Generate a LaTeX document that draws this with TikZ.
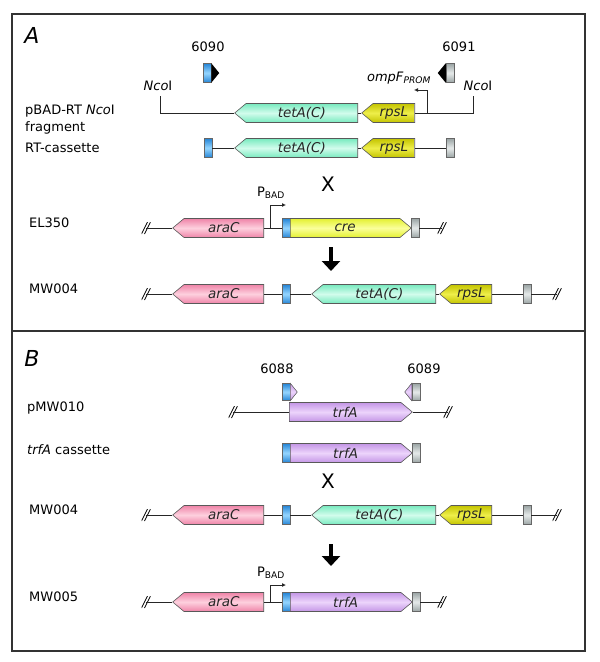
\documentclass[tikz,border=0pt]{standalone}
\usepackage{fontspec}
\setmainfont{DejaVu Sans}
\usepackage{tikz}
\usetikzlibrary{shapes.symbols, arrows.meta, positioning, calc}
\newcommand{\lblfont}{\fontsize{13}{15}\selectfont}
\newcommand{\genfont}{\fontsize{13.5}{15}\selectfont\itshape}
\definecolor{tetc}{HTML}{78EABF}
\definecolor{tetm}{HTML}{D2FCEC}
\definecolor{rpsc}{HTML}{C4C400}
\definecolor{rpsm}{HTML}{EEEE4A}
\definecolor{crec}{HTML}{E4F030}
\definecolor{crem}{HTML}{FAFF9A}
\definecolor{arac}{HTML}{EF84A8}
\definecolor{aram}{HTML}{FDD0DE}
\definecolor{trfc}{HTML}{C496E6}
\definecolor{trfm}{HTML}{ECD4FB}
\definecolor{bluc}{HTML}{2585D6}
\definecolor{blum}{HTML}{96D6FF}
\definecolor{gryc}{HTML}{9AA4A4}
\definecolor{grym}{HTML}{E6EAEA}
\tikzstyle{gene} = [signal, signal pointer angle=80, draw=black!65, line width=0.6pt, minimum height=19pt, inner sep=0pt, font=\genfont, text=black!85]
\tikzstyle{genel} = [gene, signal to=west, signal from=nowhere, anchor=east]
\tikzstyle{gener} = [gene, signal to=east, signal from=nowhere, anchor=west]
\tikzstyle{site} = [rectangle, draw=black!60, line width=0.5pt, minimum width=8pt, minimum height=19pt, inner sep=0pt]
\tikzstyle{tetf} = [top color=tetc, bottom color=tetc, middle color=tetm]
\tikzstyle{rpsf} = [top color=rpsc, bottom color=rpsc, middle color=rpsm]
\tikzstyle{cref} = [top color=crec, bottom color=crec, middle color=crem]
\tikzstyle{araf} = [top color=arac, bottom color=arac, middle color=aram]
\tikzstyle{trff} = [top color=trfc, bottom color=trfc, middle color=trfm]
\tikzstyle{bluf} = [top color=bluc, bottom color=bluc, middle color=blum]
\tikzstyle{gryf} = [top color=gryc, bottom color=gryc, middle color=grym]
\tikzstyle{bline} = [line width=0.8pt, black!85]
\tikzstyle{prom} = [bline, -{Latex[length=4pt, width=4pt]}]
\tikzstyle{darr} = [line width=4pt, -{Triangle[length=10pt, width=18pt]}]
\tikzstyle{lab} = [anchor=west, font=\lblfont, inner sep=0pt]
\tikzstyle{txt} = [font=\lblfont, inner sep=0pt]
\tikzstyle{brk} = [minimum width=9pt, minimum height=12pt, inner sep=0pt, path picture={
    \draw[line width=0.8pt] (path picture bounding box.south west) -- ([xshift=-3pt]path picture bounding box.north east);
    \draw[line width=0.8pt] ([xshift=3pt]path picture bounding box.south west) -- (path picture bounding box.north east);}]

\begin{document}
\begin{tikzpicture}[x=1pt, y=-1pt]
  \useasboundingbox (0,0) rectangle (600,662);
  \draw[line width=1.3pt, black!80] (12,14) rectangle (585,651);
  \draw[line width=1.3pt, black!80] (12,331) -- (585,331);

  % panel A
  \node[font=\fontsize{22}{24}\selectfont\itshape] (pa) at (32,35) {A};
  \node[txt] (n6090) at (208,47) {6090};
  \node[txt] (n6091) at (459,47) {6091};
  \node[site, bluf] (p6090) at (207,73) {};
  \fill[black] (p6090.north east) -- ($(p6090.east)+(8,0)$) -- (p6090.south east) -- cycle;
  \node[site, gryf] (p6091) at (450,73) {};
  \fill[black] (p6091.north west) -- ($(p6091.west)+(-8,0)$) -- (p6091.south west) -- cycle;

  \node[lab] (lab1) at (25,111) {pBAD-RT \textit{Nco}I};
  \node[lab] (lab1b) at (25,128) {fragment};
  \node[txt] (nco1) at (158,86) {\textit{Nco}I};
  \node[txt] (nco2) at (478,86) {\textit{Nco}I};
  \coordinate (c1l) at (160,96);
  \coordinate (c1r) at (473,96);
  \node[genel, tetf, minimum width=123pt] (tet1) at (358,113) {tetA(C)};
  \node[genel, rpsf, minimum width=53pt] (rps1) at (415,113) {rpsL};
  \draw[bline] (c1l) |- (tet1.west);
  \draw[bline] (tet1.east) -- (rps1.west);
  \draw[bline] (rps1.east) -| (c1r);
  \coordinate (omp1) at (427,113);
  \coordinate (omp2) at (414,90);
  \draw[prom] (omp1) |- (omp2);
  \node[txt] (ompl) at (399,78) {\textit{ompF}\textsubscript{\textit{PROM}}};

  \node[lab] (lab2) at (25,148) {RT-cassette};
  \node[site, bluf] (b2) at (208,148) {};
  \node[genel, tetf, minimum width=123pt] (tet2) at (358,148) {tetA(C)};
  \node[genel, rpsf, minimum width=53pt] (rps2) at (415,148) {rpsL};
  \node[site, gryf] (g2) at (450,148) {};
  \draw[bline] (b2) -- (tet2.west);
  \draw[bline] (tet2.east) -- (rps2.west);
  \draw[bline] (rps2.east) -- (g2);

  \node[font=\fontsize{20}{22}\selectfont] (x1) at (328,184) {X};

  \node[lab] (lab3) at (29,223) {EL350};
  \node[brk] (k3l) at (146,228) {};
  \node[genel, araf, minimum width=91pt] (ara3) at (264,228) {araC};
  \node[site, bluf] (b3) at (286,228) {};
  \node[gener, cref, minimum width=121pt] (cre3) at (290,228) {cre};
  \node[site, gryf] (g3) at (415,228) {};
  \node[brk] (k3r) at (442,228) {};
  \draw[bline] (k3l.center) -- (ara3.west);
  \draw[bline] (ara3.east) -- (b3);
  \draw[bline] (g3) -- (k3r.center);
  \coordinate (pb3) at (270,228);
  \coordinate (pb3e) at (286,205);
  \draw[prom] (pb3) |- (pb3e);
  \node[txt] (pbad3) at (271,193) {P\textsubscript{BAD}};

  \draw[darr] (331,247) -- (331,271);

  \node[lab] (lab4) at (29,289) {MW004};
  \node[brk] (k4l) at (146,294) {};
  \node[genel, araf, minimum width=91pt] (ara4) at (264,294) {araC};
  \node[site, bluf] (b4) at (286,294) {};
  \node[genel, tetf, minimum width=124pt] (tet4) at (436,294) {tetA(C)};
  \node[genel, rpsf, minimum width=52pt] (rps4) at (492,294) {rpsL};
  \node[site, gryf] (g4) at (527,294) {};
  \node[brk] (k4r) at (557,294) {};
  \draw[bline] (k4l.center) -- (ara4.west);
  \draw[bline] (ara4.east) -- (b4);
  \draw[bline] (b4) -- (tet4.west);
  \draw[bline] (tet4.east) -- (rps4.west);
  \draw[bline] (rps4.east) -- (g4);
  \draw[bline] (g4) -- (k4r.center);

  % panel B
  \node[font=\fontsize{22}{24}\selectfont\itshape] (pb) at (32,358) {B};
  \node[txt] (n6088) at (277,369) {6088};
  \node[txt] (n6089) at (424,369) {6089};
  \node[site, bluf, minimum height=17pt] (p6088) at (286,392) {};
  \filldraw[trff, draw=black!60, line width=0.5pt] (p6088.north east) -- ($(p6088.east)+(7,0)$) -- (p6088.south east) -- cycle;
  \node[site, gryf, minimum height=17pt] (p6089) at (416,392) {};
  \filldraw[trff, draw=black!60, line width=0.5pt] (p6089.north west) -- ($(p6089.west)+(-7,0)$) -- (p6089.south west) -- cycle;

  \node[lab] (lab5) at (27,408) {pMW010};
  \node[brk] (k5l) at (233,412) {};
  \node[gener, trff, minimum width=123pt] (trf5) at (289,412) {trfA};
  \node[brk] (k5r) at (448,412) {};
  \draw[bline] (k5l.center) -- (trf5.west);
  \draw[bline] (trf5.east) -- (k5r.center);

  \node[lab] (lab6) at (27,450) {\textit{trfA} cassette};
  \node[site, bluf] (b6) at (286,453) {};
  \node[gener, trff, minimum width=122pt] (trf6) at (290,453) {trfA};
  \node[site, gryf] (g6) at (416,453) {};

  \node[font=\fontsize{20}{22}\selectfont] (x2) at (328,481) {X};

  \node[lab] (lab7) at (29,510) {MW004};
  \node[brk] (k7l) at (146,515) {};
  \node[genel, araf, minimum width=91pt] (ara7) at (264,515) {araC};
  \node[site, bluf] (b7) at (286,515) {};
  \node[genel, tetf, minimum width=124pt] (tet7) at (436,515) {tetA(C)};
  \node[genel, rpsf, minimum width=52pt] (rps7) at (492,515) {rpsL};
  \node[site, gryf] (g7) at (527,515) {};
  \node[brk] (k7r) at (557,515) {};
  \draw[bline] (k7l.center) -- (ara7.west);
  \draw[bline] (ara7.east) -- (b7);
  \draw[bline] (b7) -- (tet7.west);
  \draw[bline] (tet7.east) -- (rps7.west);
  \draw[bline] (rps7.east) -- (g7);
  \draw[bline] (g7) -- (k7r.center);

  \draw[darr] (331,544) -- (331,566);

  \node[lab] (lab8) at (29,597) {MW005};
  \node[brk] (k8l) at (146,602) {};
  \node[genel, araf, minimum width=91pt] (ara8) at (264,602) {araC};
  \node[site, bluf] (b8) at (286,602) {};
  \node[gener, trff, minimum width=122pt] (trf8) at (290,602) {trfA};
  \node[site, gryf] (g8) at (416,602) {};
  \node[brk] (k8r) at (442,602) {};
  \draw[bline] (k8l.center) -- (ara8.west);
  \draw[bline] (ara8.east) -- (b8);
  \draw[bline] (g8) -- (k8r.center);
  \coordinate (pb8) at (270,602);
  \coordinate (pb8e) at (286,585);
  \draw[prom] (pb8) |- (pb8e);
  \node[txt] (pbad8) at (271,573) {P\textsubscript{BAD}};
\end{tikzpicture}
\end{document}
